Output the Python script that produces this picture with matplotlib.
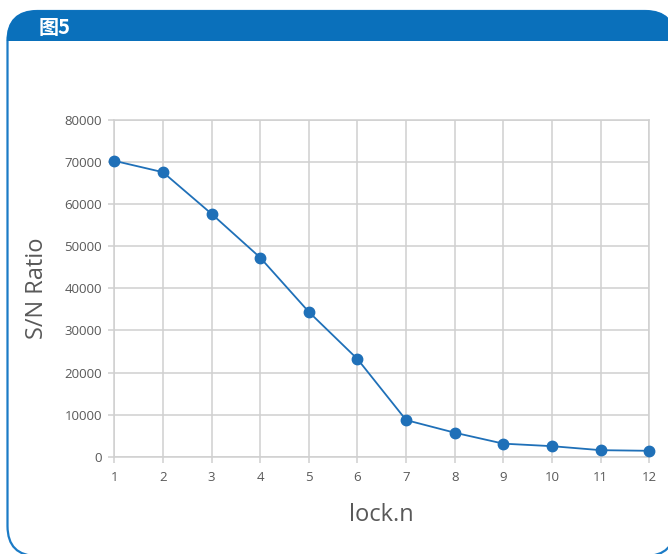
import matplotlib
matplotlib.use("Agg")
import matplotlib.pyplot as plt
from matplotlib.patches import FancyBboxPatch, Rectangle

# Signal-to-noise ratio against lock.n
lock_n = [1, 2, 3, 4, 5, 6, 7, 8, 9, 10, 11, 12]
sn_ratio = [70300, 67600, 57700, 47300, 34400, 23200, 8700, 5700, 3100, 2500, 1550, 1400]
y_ticks = [0, 10000, 20000, 30000, 40000, 50000, 60000, 70000, 80000]
title_text = "图5"
x_label = "lock.n"
y_label = "S/N Ratio"

W, H = 668, 554
BLUE = "#0a70bb"
LINE = "#1f70b8"
GRID = "#d0d0d0"
TEXT = "#595959"

fig = plt.figure(figsize=(W / 100, H / 100), dpi=100)

# Framed panel with a rounded outline and a filled header strip
bg = fig.add_axes([0, 0, 1, 1])
bg.set_xlim(0, W)
bg.set_ylim(H, 0)
bg.axis("off")

left, top, right, bottom, rad = 7.5, 11, 675, 556, 30
outline = FancyBboxPatch((left, top), right - left, bottom - top,
                         boxstyle=f"round,pad=0,rounding_size={rad}",
                         facecolor="white", edgecolor="#1b7bc6", linewidth=1.6,
                         clip_on=False)
bg.add_patch(outline)
header = FancyBboxPatch((left, top), right - left, bottom - top,
                        boxstyle=f"round,pad=0,rounding_size={rad}",
                        facecolor=BLUE, edgecolor=BLUE, linewidth=1.0)
bg.add_patch(header)
header.set_clip_path(Rectangle((0, 0), W, 41, transform=bg.transData))
bg.text(39, 27, title_text, color="white", fontsize=14.5, fontweight="bold",
        family=["Noto Sans CJK SC", "DejaVu Sans"], ha="left", va="center")

# Line chart
ax = fig.add_axes([114.3 / W, 1 - 456.7 / H, (649.3 - 114.3) / W, (456.7 - 120) / H])
ax.set_facecolor("white")
ax.plot(lock_n, sn_ratio, color=LINE, linewidth=1.3, marker="o",
        markersize=7.5, markerfacecolor=LINE, markeredgecolor=LINE,
        clip_on=False, zorder=3)
ax.set_xlim(1, 12)
ax.set_ylim(0, 80000)
ax.set_xticks(lock_n)
ax.set_yticks(y_ticks)
ax.grid(True, color=GRID, linewidth=1.1)
ax.set_axisbelow(True)
for s in ax.spines.values():
    s.set_color(GRID)
    s.set_linewidth(1.1)
ax.tick_params(axis="both", which="major", direction="out", length=4,
               width=1.1, color=GRID, labelcolor=TEXT, labelsize=9.5)
ax.tick_params(axis="x", pad=6)
ax.tick_params(axis="y", pad=5)
for lab in ax.get_xticklabels() + ax.get_yticklabels():
    lab.set_family("Open Sans")
ax.set_xlabel(x_label, fontsize=17, color=TEXT, family="Open Sans", labelpad=14)
ax.set_ylabel(y_label, fontsize=17, color=TEXT, family="Open Sans", labelpad=11)

fig.savefig("out.png", dpi=100)
